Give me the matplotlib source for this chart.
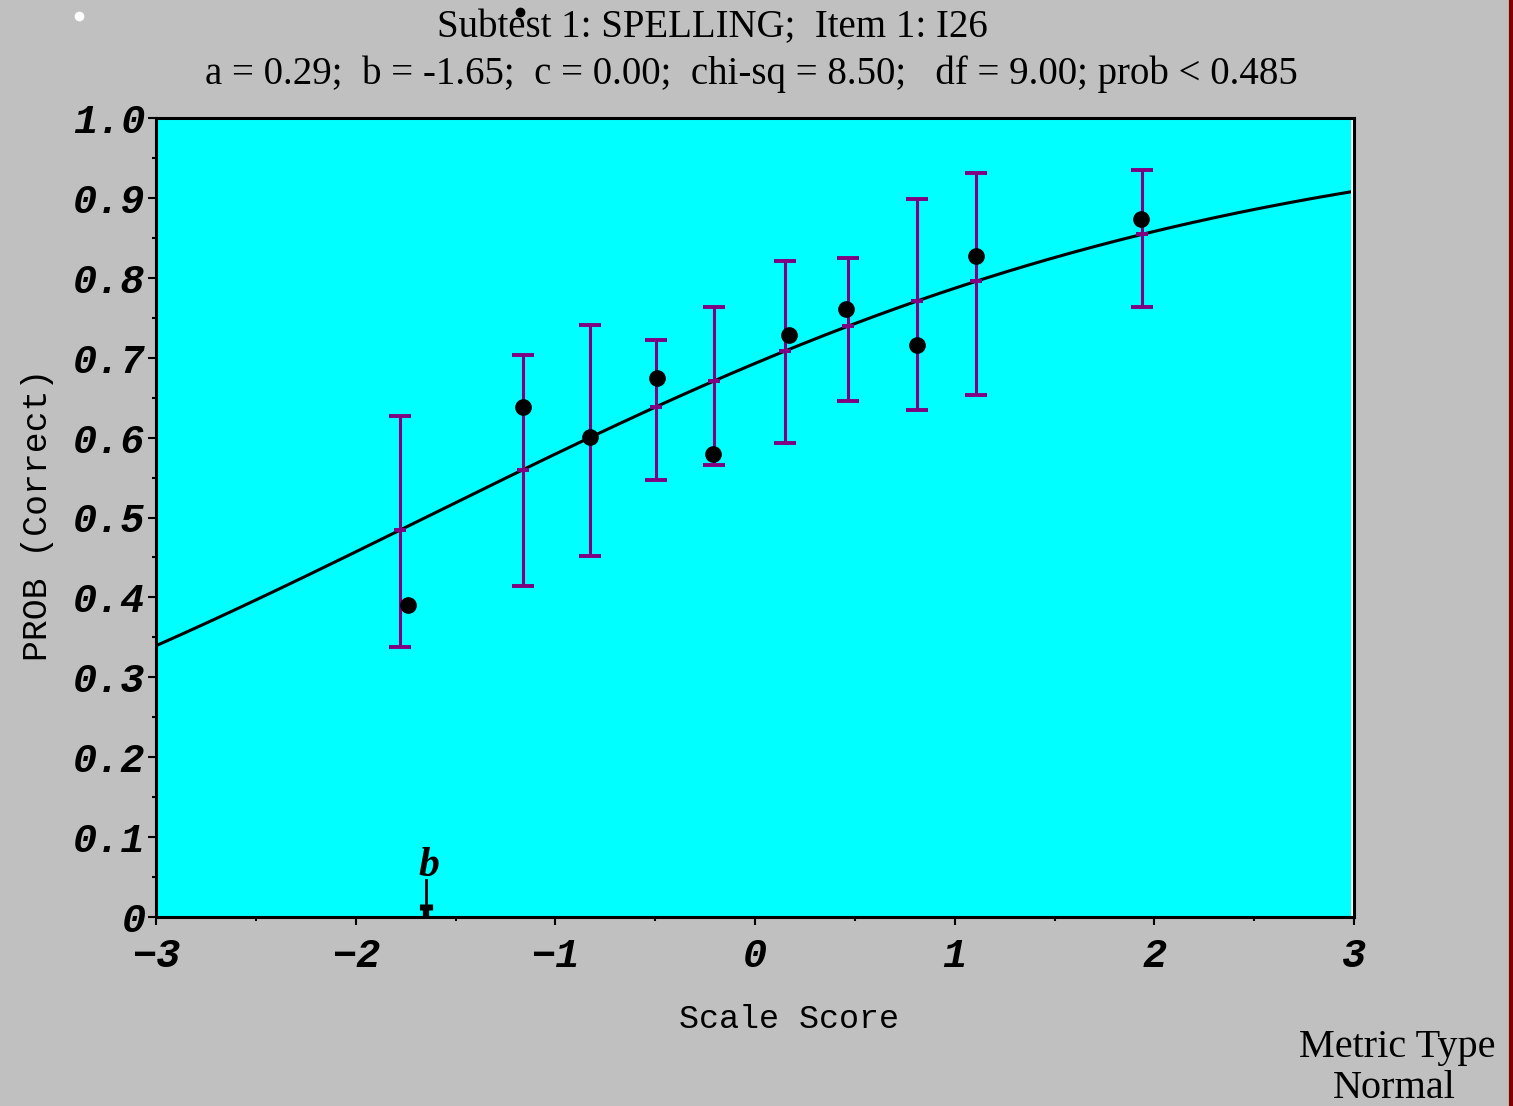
## item characteristic curve, subtest 1 spelling, item I26
import numpy as np
import matplotlib.pyplot as plt
from matplotlib.lines import Line2D

# 3PL item parameters
a = 0.29
b = -1.65
c = 0.00

# observed proportions by score group with error bar limits
bar_x = [-1.777, -1.164, -0.825, -0.494, -0.205, 0.151, 0.465, 0.810, 1.107, 1.939]
obs_x = [-1.738, -1.164, -0.828, -0.492, -0.208, 0.170, 0.456, 0.810, 1.107, 1.931]
obs_p = [0.390, 0.638, 0.601, 0.675, 0.580, 0.728, 0.761, 0.716, 0.827, 0.873]
ci_hi = [0.627, 0.703, 0.741, 0.722, 0.763, 0.821, 0.825, 0.898, 0.931, 0.935]
ci_lo = [0.338, 0.414, 0.452, 0.547, 0.566, 0.593, 0.646, 0.635, 0.653, 0.763]

x_ticks = [-3, -2, -1, 0, 1, 2, 3]
x_labels = ['\u22123', '\u22122', '\u22121', '0', '1', '2', '3']
y_ticks = [0.0, 0.1, 0.2, 0.3, 0.4, 0.5, 0.6, 0.7, 0.8, 0.9, 1.0]
y_labels = ['0', '0.1', '0.2', '0.3', '0.4', '0.5', '0.6', '0.7', '0.8', '0.9', '1.0']

title1 = 'Subtest 1: SPELLING;  Item 1: I26'
title2 = 'a = 0.29;  b = -1.65;  c = 0.00;  chi-sq = 8.50;   df = 9.00; prob < 0.485'


def icc(theta):
    return c + (1 - c) / (1 + np.exp(-1.7 * a * (theta - b)))


W, H = 1513, 1106
fig = plt.figure(figsize=(W / 100, H / 100), dpi=100, facecolor='#c0c0c0')
ax = fig.add_axes([156 / W, 1 - 917 / H, (1354 - 156) / W, (917 - 118) / H])
ax.set_facecolor('#00ffff')

theta = np.linspace(-3, 3, 400)
ax.plot(theta, icc(theta), color='black', linewidth=2.2, zorder=3)

bx = np.array(bar_x)
ax.vlines(bx, ci_lo, ci_hi, color='#800080', linewidth=2.2, zorder=4)
ax.plot(bx, ci_hi, linestyle='none', marker='_', markersize=16, markeredgewidth=2.8,
        color='#800080', zorder=4)
ax.plot(bx, ci_lo, linestyle='none', marker='_', markersize=16, markeredgewidth=2.8,
        color='#800080', zorder=4)
# model value at each group
ax.plot(bx, icc(bx), linestyle='none', marker='_', markersize=8, markeredgewidth=2.8,
        color='#800080', zorder=4)
ax.plot(obs_x, obs_p, linestyle='none', marker='o', markersize=11,
        color='black', zorder=5)

# location parameter marker
ax.plot([b, b], [0, 0.046], color='black', linewidth=2, zorder=5)
ax.plot([b, b], [0, 0.009], color='black', linewidth=4.5, solid_capstyle='butt', zorder=5)
ax.plot([b, b], [0.009, 0.016], color='black', linewidth=9.5, solid_capstyle='butt', zorder=5)
ax.text(b - 0.035, 0.04, 'b', fontsize=30, fontweight='bold', fontstyle='italic',
        family='Liberation Serif', ha='left', va='bottom')

ax.axvline(3, color='white', linewidth=5, zorder=6)
for s in ax.spines.values():
    s.set_linewidth(2.2)
    s.set_zorder(7)

ax.set_xlim(-3, 3)
ax.set_ylim(0, 1)
ax.set_xticks(x_ticks)
ax.set_xticklabels(x_labels)
ax.set_yticks(y_ticks)
ax.set_yticklabels(y_labels)
ax.set_xticks(np.arange(-2.5, 3, 1.0), minor=True)
ax.set_yticks(np.arange(0.05, 1.0, 0.1), minor=True)
ax.tick_params(which='major', length=5.5, width=1.5, direction='out')
ax.tick_params(which='minor', length=3, width=1.5, direction='out')
ax.tick_params(axis='x', which='major', pad=9)
ax.tick_params(axis='y', which='major', pad=2)
for lbl in ax.get_xticklabels() + ax.get_yticklabels():
    lbl.set_family('Liberation Mono')
    lbl.set_fontweight('bold')
    lbl.set_fontstyle('italic')
    lbl.set_fontsize(29)

fig.text(712 / W, 1 - 28 / H, title1, family='Liberation Serif', fontsize=28,
         ha='center', va='center')
fig.text(751 / W, 1 - 74 / H, title2, family='Liberation Serif', fontsize=28,
         ha='center', va='center')
fig.text(789 / W, 1 - 1020 / H, 'Scale Score', family='Liberation Mono', fontsize=24,
         ha='center', va='center')
fig.text(38 / W, 1 - 515 / H, 'PROB (Correct)', family='Liberation Mono', fontsize=25,
         rotation=90, ha='center', va='center')
fig.text(1397 / W, 1 - 1047 / H, 'Metric Type', family='Liberation Serif', fontsize=29,
         ha='center', va='center')
fig.text(1394 / W, 1 - 1088 / H, 'Normal', family='Liberation Serif', fontsize=29,
         ha='center', va='center')

# stray screen dots and right-hand frame edge
fig.add_artist(Line2D([79 / W], [1 - 16 / H], marker='o', markersize=6, color='white',
                      transform=fig.transFigure))
fig.add_artist(Line2D([520 / W], [1 - 12 / H], marker='o', markersize=6, color='black',
                      transform=fig.transFigure))
fig.add_artist(Line2D([1511 / W, 1511 / W], [0, 1], color='#800000', linewidth=3,
                      transform=fig.transFigure))

plt.savefig('out.png', dpi=100, facecolor=fig.get_facecolor())
plt.close()
